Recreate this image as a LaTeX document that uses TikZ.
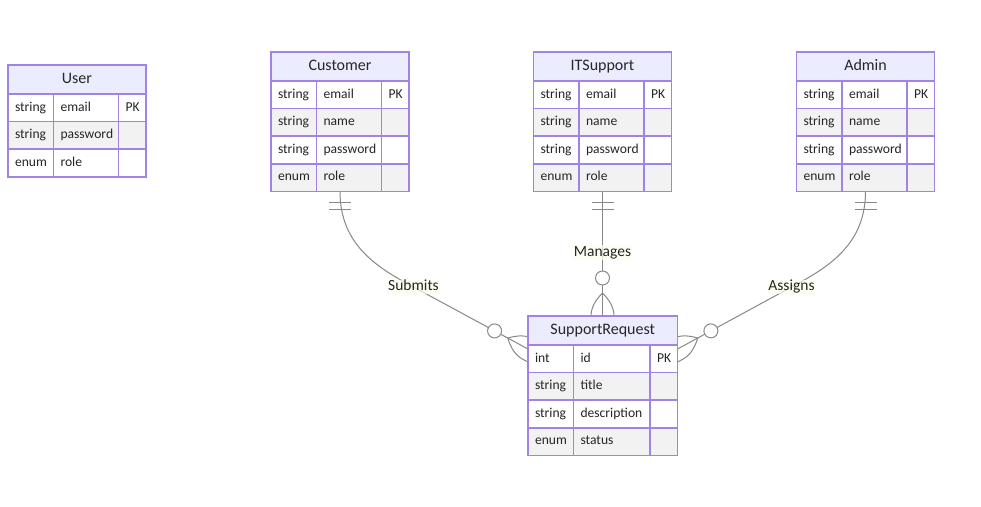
\documentclass[tikz,border=0pt]{standalone}
\usepackage{fontspec}
\setmainfont{Carlito}
\usepackage{xcolor}
\usepackage{tikz}
\usetikzlibrary{calc, backgrounds}
\definecolor{EntBorder}{HTML}{A083E2}
\definecolor{EntHead}{HTML}{ECECFF}
\definecolor{RowGray}{HTML}{F2F2F2}
\definecolor{Ink}{HTML}{262626}
\definecolor{RelGray}{HTML}{888888}
\definecolor{LabelBg}{HTML}{F9FFEC}
\tikzset{
  enthead/.style={draw=EntBorder, fill=EntHead, line width=1.5pt, anchor=north west,
    minimum height=29pt, inner sep=0pt, outer sep=0pt, text height=11.5pt, text depth=3pt,
    text=Ink, font=\fontsize{16}{19}\selectfont},
  cell/.style={draw=EntBorder, line width=1.5pt, anchor=north west, minimum height=27.6pt,
    inner xsep=7pt, inner ysep=0pt, outer sep=0pt, align=left, text height=9.5pt,
    text depth=3pt, text=Ink, font=\fontsize{13.6}{16}\selectfont},
  relline/.style={draw=RelGray, line width=1pt},
  rellabel/.style={fill=LabelBg, fill opacity=0.7, text opacity=1, text=Ink, inner sep=0.8pt,
    text height=10pt, text depth=2.5pt, font=\fontsize{15.5}{18}\selectfont},
  manyend/.pic={
    \draw[relline, fill=white] (-38,0) circle (7pt);
    \draw[relline] (-23,0) .. controls (-15.3,7.7) and (-7.7,11.5) .. (0,11.5) -- (6,11.5);
    \draw[relline] (-23,0) .. controls (-15.3,-7.7) and (-7.7,-11.5) .. (0,-11.5) -- (6,-11.5);
  },
  oneend/.pic={
    \draw[relline] (11,-11) -- (11,11);
    \draw[relline] (18,-11) -- (18,11);
  },
}
% entity table: name, title, left, top, width of name column, rows type/name/key
\newcommand{\erentity}[6]{%
  \pgfmathsetmacro\nmwidth{#5-14}%
  \node[enthead, minimum width=73pt+#5pt] (#1) at (#3,#4) {#2};
  \foreach \ty/\nm/\ky [count=\r from 0] in {#6} {%
    \ifodd\r \def\rowfill{RowGray}\else \def\rowfill{white}\fi
    \node[cell, fill=\rowfill, text width=31.5pt] (#1-ty\r) at ($(#1.south west)+(0,27.6*\r)$) {\ty};
    \node[cell, fill=\rowfill, text width=\nmwidth pt] (#1-nm\r) at (#1-ty\r.north east) {\nm};
    \node[cell, fill=\rowfill, text width=13.5pt] (#1-ky\r) at (#1-nm\r.north east) {\ky};
  }%
}

\begin{document}
\begin{tikzpicture}[x=1pt, y=-1pt]
  \useasboundingbox (0,0) rectangle (981,506);

  % Entities
  \erentity{user}{User}{8}{65}{65}{string/email/PK, string/password/{}, enum/role/{}}
  \erentity{customer}{Customer}{271}{52}{65}{string/email/PK, string/name/{}, string/password/{}, enum/role/{}}
  \erentity{itsupport}{ITSupport}{533.5}{52}{65}{string/email/PK, string/name/{}, string/password/{}, enum/role/{}}
  \erentity{admin}{Admin}{796.5}{52}{65}{string/email/PK, string/name/{}, string/password/{}, enum/role/{}}
  \erentity{request}{SupportRequest}{528}{316}{76.5}{int/id/PK, string/title/{}, string/description/{}, enum/status/{}}

  % Relationship ends
  \coordinate (cust-out) at (customer |- customer-ty3.south);
  \coordinate (its-out) at (itsupport |- itsupport-ty3.south);
  \coordinate (admin-out) at (admin |- admin-ty3.south);
  \coordinate (submits-in) at ([yshift=-4pt]request.south west);
  \coordinate (manages-in) at (itsupport |- request.north);
  \coordinate (assigns-in) at ([yshift=-4pt]request.south east);
  \coordinate (submits-mid) at (413.5,287);
  \coordinate (assigns-mid) at (791.5,287);

  \begin{scope}[on background layer]
    \fill[white] (0,0) rectangle (981,506);

    % Customer submits requests
    \draw[relline] (cust-out) .. controls +(0,54) and +(-35.5,-19) .. (submits-mid) -- (submits-in);
    \pic[rotate=-90] at (cust-out) {oneend};
    \pic[rotate=-28.4] at (submits-in) {manyend};
    \node[rellabel] (submits-lbl) at (submits-mid) {Submits};

    % IT support manages requests
    \draw[relline] (its-out) -- (manages-in);
    \pic[rotate=-90] at (its-out) {oneend};
    \pic[rotate=-90] at (manages-in) {manyend};
    \node[rellabel] (manages-lbl) at ($(its-out)!0.49!(manages-in)$) {Manages};

    % Admin assigns requests
    \draw[relline] (admin-out) .. controls +(0,54) and +(35.5,-19) .. (assigns-mid) -- (assigns-in);
    \pic[rotate=-90] at (admin-out) {oneend};
    \pic[rotate=-151.5] at (assigns-in) {manyend};
    \node[rellabel] (assigns-lbl) at (assigns-mid) {Assigns};
  \end{scope}
\end{tikzpicture}
\end{document}
